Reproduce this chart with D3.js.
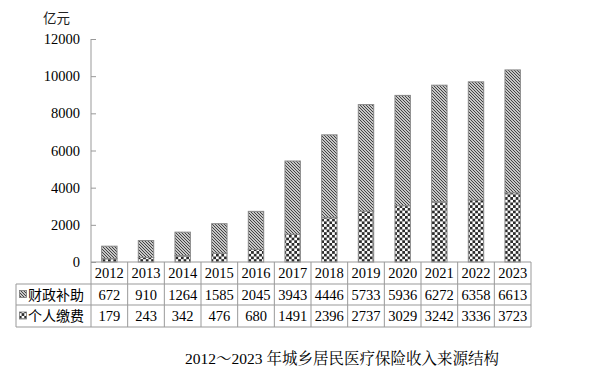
<!DOCTYPE html>
<html><head><meta charset="utf-8">
<script src="https://cdn.jsdelivr.net/npm/d3@7"></script>
<style>body{margin:0;background:#fff}svg{display:block}</style>
</head><body>
<script>
const years = ["2012","2013","2014","2015","2016","2017","2018","2019","2020","2021","2022","2023"];
const fiscal = [672,910,1264,1585,2045,3943,4446,5733,5936,6272,6358,6613];
const personal = [179,243,342,476,680,1491,2396,2737,3029,3242,3336,3723];
const seriesNames = ["财政补助","个人缴费"];
const yTicks = [0,2000,4000,6000,8000,10000,12000];
const unitLabel = "亿元";
const title = "2012～2023 年城乡居民医疗保险收入来源结构";

(function(){
const W=600,H=382;
const svg=d3.select("body").append("svg").attr("width",W).attr("height",H);
const defs=svg.append("defs");
const hatch=defs.append("pattern").attr("id","hatch").attr("patternUnits","userSpaceOnUse").attr("width",3).attr("height",3);
hatch.append("rect").attr("width",3).attr("height",3).attr("fill","#fff");
hatch.append("path").attr("d","M-1,-1L4,4M-1,2L1,4M2,-1L4,1").attr("stroke","#3a3a3a").attr("stroke-width",1.1);
const check=defs.append("pattern").attr("id","check").attr("patternUnits","userSpaceOnUse").attr("width",5.4).attr("height",5.4);
check.append("rect").attr("width",5.4).attr("height",5.4).attr("fill","#fff");
check.append("rect").attr("width",2.7).attr("height",2.7).attr("fill","#2a2a2a");
check.append("rect").attr("x",2.7).attr("y",2.7).attr("width",2.7).attr("height",2.7).attr("fill","#2a2a2a");

const serif="'Liberation Serif','Times New Roman','Noto Serif CJK SC',serif";
const cjk="'Noto Sans CJK SC',serif";
const pl=91,pr=531,pt=39,pb=262;
const x=d3.scaleBand().domain(years).range([pl,pr]).paddingInner(0.58).paddingOuter(0.29);
const xc=d3.scaleBand().domain(years).range([pl,pr]).padding(0);
const y=d3.scaleLinear().domain([0,12000]).range([pb,pt]);

const ax=svg.append("g").attr("transform",`translate(${pl},0)`)
  .call(d3.axisLeft(y).tickValues(yTicks).tickSize(-5).tickPadding(11).tickFormat(d3.format("d")));
ax.select(".domain").attr("stroke","#999").attr("d",`M0,${pt}V${pb}`);
ax.selectAll(".tick line").attr("stroke","#999");
ax.selectAll(".tick text").attr("font-family",serif).attr("font-size",14.5).attr("fill","#000");
svg.append("text").attr("x",43).attr("y",23).attr("font-family",cjk).attr("font-size",13.5).attr("fill","#222").text(unitLabel);

const g=svg.append("g");
years.forEach((yr,i)=>{
  g.append("rect").attr("x",x(yr)).attr("width",x.bandwidth())
   .attr("y",y(personal[i])).attr("height",y(0)-y(personal[i]))
   .attr("fill","url(#check)").attr("stroke","#888").attr("stroke-width",1);
  g.append("rect").attr("x",x(yr)).attr("width",x.bandwidth())
   .attr("y",y(personal[i]+fiscal[i])).attr("height",y(personal[i])-y(personal[i]+fiscal[i]))
   .attr("fill","url(#hatch)").attr("stroke","#888").attr("stroke-width",1);
});

const rows=[262,284,305,327];
const tl=svg.append("g").attr("stroke","#999").attr("stroke-width",1).attr("fill","none");
tl.append("line").attr("x1",pl).attr("x2",pr).attr("y1",rows[0]).attr("y2",rows[0]);
for(let r=1;r<4;r++) tl.append("line").attr("x1",16).attr("x2",pr).attr("y1",rows[r]).attr("y2",rows[r]);
tl.append("line").attr("x1",16).attr("x2",16).attr("y1",rows[1]).attr("y2",rows[3]);
years.forEach(yr=>{ tl.append("line").attr("x1",xc(yr)).attr("x2",xc(yr)).attr("y1",rows[0]).attr("y2",rows[3]); });
tl.append("line").attr("x1",pr).attr("x2",pr).attr("y1",rows[0]).attr("y2",rows[3]);

const tt=svg.append("g").attr("font-family",serif).attr("font-size",14.5).attr("fill","#000").attr("text-anchor","middle");
const rowVals=[years,fiscal,personal];
rowVals.forEach((vals,r)=>{
  years.forEach((yr,i)=>{
    tt.append("text").attr("x",xc(yr)+xc.bandwidth()/2).attr("y",(rows[r]+rows[r+1])/2+5).text(vals[i]);
  });
});
["hatch","check"].forEach((p,k)=>{
  const cy=(rows[k+1]+rows[k+2])/2;
  svg.append("rect").attr("x",19.5).attr("y",cy-4).attr("width",7).attr("height",7).attr("fill",`url(#${p})`).attr("stroke","#777").attr("stroke-width",0.8);
  svg.append("text").attr("x",28).attr("y",cy+5).attr("font-family",cjk).attr("font-size",14).attr("fill","#000").text(seriesNames[k]);
});

svg.append("text").attr("x",342).attr("y",364).attr("text-anchor","middle").attr("font-family",serif).attr("font-size",15.5).attr("fill","#000").text(title);
})();
</script>
</body></html>
